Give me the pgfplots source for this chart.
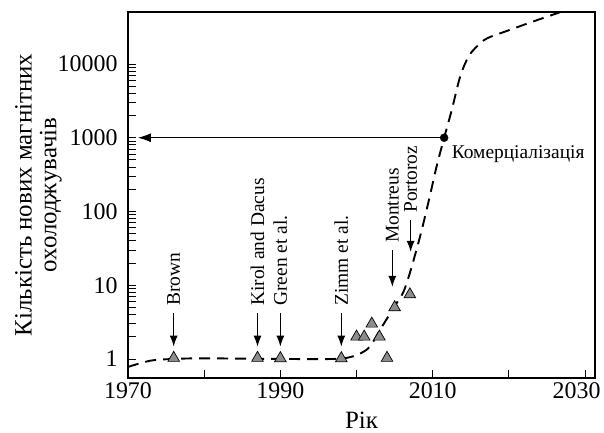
\documentclass[border=0pt]{standalone}
\usepackage{fontspec}
\setmainfont{Liberation Serif}
\usepackage{pgfplots}
\pgfplotsset{compat=1.18}
\usetikzlibrary{arrows.meta}
\begin{document}
\begin{tikzpicture}
\begin{axis}[
  scale only axis, width=467bp, height=366bp,
  xmin=1970, xmax=2031.3,
  ymode=log, ymin=0.552, ymax=50700,
  xtick={1970,1990,2010,2030},
  minor xtick={1980,2000,2020},
  ytick={1,10,100,1000,10000},
  yticklabels={1,10,100,1000,10000},
  xticklabels={1970,1990,2010,{\hspace*{-17bp}2030}},
  xtick pos=lower, ytick pos=left,
  tick align=inside,
  major tick length=8bp, minor tick length=8bp,
  tick style={line width=0.9bp, black},
  axis line style={line width=1.1bp},
  /pgf/number format/assume math mode=true,
  ticklabel style={font=\fontsize{24}{24}\selectfont},
  yticklabel style={xshift=-7bp},
  xticklabel style={yshift=-1bp},
  xlabel={Рік},
  ylabel={Кількість нових магнітних\\охолоджувачів},
  xlabel style={font=\fontsize{25}{25}\selectfont, at={(axis description cs:0.5,0)}, anchor=north, inner sep=0pt, yshift=-34bp},
  ylabel style={font=\fontsize{25}{25}\selectfont, align=center, at={(axis description cs:0,0.5)}, anchor=south, inner sep=0pt, yshift=66bp},
  clip=false,
]
% dashed trend curve
\addplot[black, line width=1.9bp, dash pattern=on 11bp off 7bp, smooth, tension=0.55] coordinates {
(1970,0.78) (1973,0.95) (1976,1.0) (1980,1.02) (1990,1.0) (1997,1.0) (1999,1.05)
(2000.6,1.2) (2001.8,1.5) (2003.3,2.7) (2005,5.2) (2006.35,9.1) (2008.1,37) (2009.4,129)
(2010.5,405) (2011.5,1000) (2012.5,2380) (2013.6,6740) (2014.7,12600) (2015.8,17300)
(2017.1,22200) (2019.5,27500) (2022.5,35600) (2024.5,42000) (2026.8,50700)
};
% data triangles
\addplot[only marks, mark=triangle*, mark size=6.7bp, mark options={fill=black!45, draw=black, line width=0.7bp}] coordinates {
(1976,1.03) (1987,1.03) (1990,1.02) (1998,1.02)
(2000,2) (2001,2) (2002,3) (2003,2) (2004,1.03) (2005,5) (2007,7.5)
};
% commercialisation point
\addplot[only marks, mark=*, mark size=4bp, black] coordinates {(2011.5,1000)};
\draw[line width=1.1bp, -{Latex[length=13bp,width=9bp]}] (axis cs:2011.5,1000) -- (axis cs:1971.3,1000);
\node[anchor=base west, inner sep=0pt, xshift=7.5bp, yshift=-21bp, font=\fontsize{19.5}{20}\selectfont] at (axis cs:2011.5,1000) {Комерціалізація};
% annotation arrows
\foreach \x/\lab in {1976/Brown, 1987/Kirol and Dacus, 1990/Green et al., 1998/Zimm et al.}{
  \edef\tmp{\noexpand\draw[line width=1.1bp, -{Latex[length=11bp,width=8bp]}] (axis cs:\x,4.2) -- (axis cs:\x,1.47);}\tmp
  \edef\tmp{\noexpand\node[rotate=90, anchor=west, inner sep=0pt, font=\noexpand\fontsize{19.5}{20}\noexpand\selectfont] at (axis cs:\x,5.25) {\lab};}\tmp
}
\draw[line width=1.1bp, -{Latex[length=11bp,width=8bp]}] (axis cs:2004.7,30) -- (axis cs:2004.7,9.5);
\node[rotate=90, anchor=west, inner sep=0pt, font=\fontsize{19.5}{20}\selectfont] at (axis cs:2004.7,37.4) {Montreus};
\draw[line width=1.1bp, -{Latex[length=11bp,width=8bp]}] (axis cs:2007.1,76.7) -- (axis cs:2007.1,28.3);
\node[rotate=90, anchor=west, inner sep=0pt, font=\fontsize{19.5}{20}\selectfont] at (axis cs:2007.1,95.5) {Portoroz};
\end{axis}
\pgfresetboundingbox
\path (current axis.south west) ++(-128bp,-55bp) coordinate (bl);
\path (current axis.north east) ++(9bp,12bp) coordinate (tr);
\path[use as bounding box] (bl) rectangle (tr);
\end{tikzpicture}
\end{document}
